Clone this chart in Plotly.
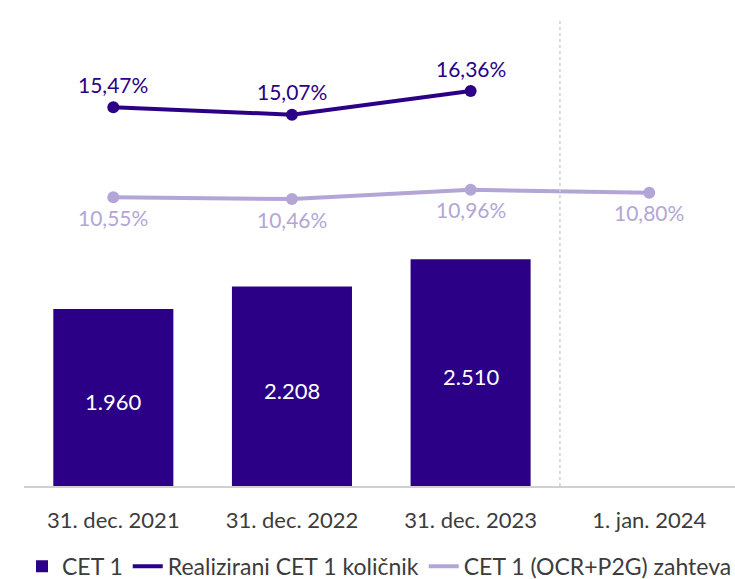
import plotly.graph_objects as go

categories = ["31. dec. 2021", "31. dec. 2022", "31. dec. 2023", "1. jan. 2024"]
cet1_values = [1960, 2208, 2510, None]
cet1_labels = ["1.960", "2.208", "2.510", ""]
ratio_values = [15.47, 15.07, 16.36, None]
ratio_labels = ["15,47%", "15,07%", "16,36%", ""]
req_values = [10.55, 10.46, 10.96, 10.80]
req_labels = ["10,55%", "10,46%", "10,96%", "10,80%"]

DARK = "#2B0087"
LIGHT = "#B3A6D6"
FONT = "Lato"
TXT = "#3c3c3c"

fig = go.Figure()

fig.add_trace(go.Bar(
    x=categories, y=cet1_values, name="CET 1",
    marker=dict(color=DARK, line=dict(width=0)),
    width=0.672, yaxis="y",
))

fig.add_trace(go.Scatter(
    x=categories, y=ratio_values, name="Realizirani CET 1 količnik",
    mode="lines", line=dict(color=DARK, width=4), yaxis="y2",
))
fig.add_trace(go.Scatter(
    x=categories, y=req_values, name="CET 1 (OCR+P2G) zahteva",
    mode="lines", line=dict(color=LIGHT, width=4), yaxis="y2",
))
fig.add_trace(go.Scatter(
    x=categories, y=ratio_values, mode="markers", showlegend=False,
    marker=dict(color=DARK, size=12), yaxis="y2",
))
fig.add_trace(go.Scatter(
    x=categories, y=req_values, mode="markers", showlegend=False,
    marker=dict(color=LIGHT, size=12), yaxis="y2",
))

annotations = []
for c, v, t in zip(categories, cet1_values, cet1_labels):
    if v is None:
        continue
    annotations.append(dict(x=c, y=v / 2, xref="x", yref="y", text=t, showarrow=False,
                            yanchor="middle", yshift=-4,
                            font=dict(color="white", size=22, family=FONT)))
for c, v, t in zip(categories, ratio_values, ratio_labels):
    if v is None:
        continue
    annotations.append(dict(x=c, y=v, xref="x", yref="y2", text=t, showarrow=False,
                            yanchor="middle", yshift=23,
                            font=dict(color=DARK, size=21, family=FONT)))
for c, v, t in zip(categories, req_values, req_labels):
    annotations.append(dict(x=c, y=v, xref="x", yref="y2", text=t, showarrow=False,
                            yanchor="middle", yshift=-20,
                            font=dict(color=LIGHT, size=21, family=FONT)))

fig.add_shape(type="line", xref="x", yref="paper", x0=2.5, x1=2.5, y0=0, y1=1,
              line=dict(color="#cfcfcf", width=1.5, dash="dot"))

fig.update_layout(
    width=735, height=579,
    margin=dict(l=24, r=0, t=19, b=93, autoexpand=False),
    plot_bgcolor="white", paper_bgcolor="white",
    font=dict(family=FONT, color=TXT, size=22),
    annotations=annotations,
    xaxis=dict(
        type="category", range=[-0.5, 3.48], automargin=False,
        showline=True, linecolor="#d0d0d0", linewidth=2,
        showgrid=False, ticks="", ticklen=0, ticklabelstandoff=14,
        tickfont=dict(size=22, color=TXT, family=FONT),
    ),
    yaxis=dict(range=[0, 5170], visible=False, showgrid=False, zeroline=False),
    yaxis2=dict(range=[-5.23, 20.3], overlaying="y", visible=False,
                showgrid=False, zeroline=False),
    legend=dict(orientation="h", x=0.5, xanchor="center",
                yref="container", y=0.022, yanchor="middle",
                font=dict(size=23, color=TXT, family=FONT),
                itemwidth=30, tracegroupgap=0, traceorder="normal"),
    showlegend=True,
)

fig.write_html("out.html", config={"displayModeBar": False},
               post_script="document.body.style.margin='0';")
